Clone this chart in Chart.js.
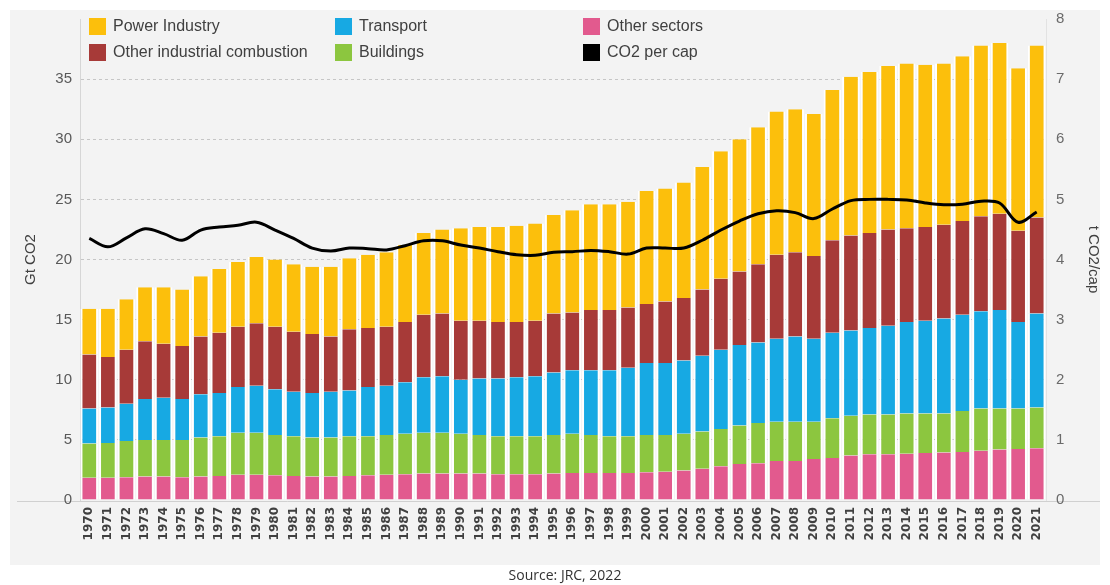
<!DOCTYPE html>
<html>
<head>
<meta charset="utf-8">
<script src="https://cdn.jsdelivr.net/npm/chart.js@4.4.1/dist/chart.umd.min.js"></script>
<style>
  body { margin: 0; background: #fff; font-family: "Liberation Sans", Arial, sans-serif; }
  #wrap { position: relative; width: 1110px; height: 585px; overflow: hidden; }
  #legend { position: absolute; left: 0; top: 0; }
  .item { position: absolute; display: flex; align-items: center; font-size: 16px; color: #404040; white-space: nowrap; }
  .item span.box { display: inline-block; width: 17px; height: 17px; margin-right: 7px; }
  #source { position: absolute; left: 10px; width: 1110px; top: 565px; text-align: center; font-family: "Open Sans", sans-serif; font-size: 14px; color: #333; }
</style>
</head>
<body>
<div id="wrap">
  <canvas id="chart" width="1110" height="585"></canvas>
  <div id="legend"></div>
  <div id="source">Source: JRC, 2022</div>
</div>
<script>
// Años
const years = [];
for (let y = 1970; y <= 2021; y++) years.push(String(y));

// Emisiones por sector (Gt CO2)
const otherSectors = [1.85,1.85,1.9,1.95,1.95,1.9,1.95,2.0,2.1,2.1,2.05,2.0,1.95,1.95,2.0,2.05,2.1,2.15,2.2,2.2,
  2.2,2.2,2.15,2.15,2.15,2.2,2.25,2.25,2.25,2.25,2.3,2.35,2.45,2.6,2.8,3.0,3.05,3.25,3.25,3.4,
  3.5,3.7,3.8,3.8,3.85,3.9,3.95,4.0,4.1,4.2,4.25,4.3];
const buildings = [2.85,2.9,3.0,3.05,3.05,3.1,3.25,3.3,3.5,3.5,3.35,3.3,3.25,3.25,3.3,3.25,3.3,3.35,3.4,3.4,
  3.3,3.2,3.15,3.15,3.15,3.2,3.25,3.15,3.05,3.05,3.1,3.05,3.05,3.1,3.1,3.2,3.35,3.25,3.25,3.1,
  3.3,3.3,3.3,3.3,3.35,3.3,3.25,3.4,3.5,3.4,3.35,3.4];
const transport = [2.9,2.95,3.1,3.4,3.5,3.4,3.6,3.6,3.8,3.9,3.8,3.7,3.7,3.8,3.8,4.1,4.1,4.3,4.6,4.7,
  4.5,4.7,4.8,4.9,5.0,5.2,5.3,5.4,5.5,5.7,6.0,6.0,6.1,6.3,6.6,6.7,6.7,6.9,7.1,6.9,
  7.1,7.1,7.2,7.4,7.6,7.7,7.9,8.0,8.1,8.2,7.2,7.8];
const otherIndustrial = [4.5,4.2,4.5,4.8,4.5,4.4,4.8,5.0,5.0,5.2,5.2,5.0,4.9,4.6,5.1,4.9,4.9,5.0,5.2,5.2,
  4.9,4.8,4.7,4.6,4.6,4.9,4.8,5.0,5.0,5.0,4.9,5.1,5.2,5.5,5.9,6.1,6.5,7.0,7.0,6.9,
  7.7,7.9,7.9,8.0,7.8,7.8,7.8,7.8,7.9,8.0,7.6,8.0];
const powerIndustry = [3.8,4.0,4.2,4.5,4.7,4.7,5.0,5.3,5.4,5.5,5.6,5.6,5.6,5.8,5.9,6.1,6.2,6.4,6.8,7.0,
  7.7,7.8,7.9,8.0,8.1,8.2,8.5,8.8,8.8,8.8,9.4,9.4,9.6,10.2,10.6,11.0,11.4,11.9,11.9,11.8,
  12.5,13.2,13.4,13.6,13.7,13.5,13.4,13.7,14.2,14.2,13.5,14.3];

// CO2 per cápita (t CO2/cap)
const co2PerCap = [4.35,4.21,4.36,4.51,4.43,4.32,4.49,4.54,4.57,4.62,4.49,4.35,4.19,4.14,4.19,4.18,4.16,4.23,4.31,4.31,
  4.24,4.19,4.13,4.08,4.07,4.12,4.13,4.15,4.13,4.09,4.19,4.19,4.19,4.32,4.49,4.64,4.76,4.81,4.78,4.68,
  4.84,4.98,5.0,5.0,4.99,4.94,4.91,4.92,4.97,4.94,4.62,4.79];

// Ejes
const leftTicks = [0, 5, 10, 15, 20, 25, 30, 35];
const rightTicks = [0, 1, 2, 3, 4, 5, 6, 7, 8];

const colors = {
  power: '#fcbf0c',
  industrial: '#a73a38',
  transport: '#17a9e3',
  buildings: '#8cc63f',
  other: '#e25a8e',
  line: '#000000'
};

function barSet(label, data, color) {
  return {
    type: 'bar',
    label: label,
    data: data,
    backgroundColor: color,
    borderColor: '#ffffff',
    borderWidth: { left: 2, right: 2, top: 0, bottom: 0 },
    borderSkipped: false,
    barPercentage: 1,
    categoryPercentage: 0.95,
    yAxisID: 'y',
    stack: 'co2'
  };
}

// Fondo gris del gráfico y línea base
const background = {
  id: 'background',
  beforeDraw(chart) {
    const c = chart.ctx;
    c.save();
    c.fillStyle = '#ffffff';
    c.fillRect(0, 0, chart.width, chart.height);
    c.fillStyle = '#f3f3f3';
    c.fillRect(10, 10, 1090, 555);
    c.strokeStyle = '#d0d0d0';
    c.lineWidth = 1;
    c.beginPath();
    c.moveTo(17, chart.chartArea.bottom + 1.5);
    c.lineTo(1100, chart.chartArea.bottom + 1.5);
    c.stroke();
    c.restore();
  }
};

const chart = new Chart(document.getElementById('chart'), {
  data: {
    labels: years,
    datasets: [
      {
        type: 'line',
        label: 'CO2 per cap',
        data: co2PerCap,
        borderColor: colors.line,
        backgroundColor: colors.line,
        borderWidth: 3,
        pointRadius: 0,
        tension: 0.35,
        yAxisID: 'y1',
        order: -1
      },
      barSet('Other sectors', otherSectors, colors.other),
      barSet('Buildings', buildings, colors.buildings),
      barSet('Transport', transport, colors.transport),
      barSet('Other industrial combustion', otherIndustrial, colors.industrial),
      barSet('Power Industry', powerIndustry, colors.power)
    ]
  },
  options: {
    responsive: false,
    animation: false,
    layout: { padding: { top: 10, bottom: 40, left: 0, right: 0 } },
    plugins: {
      legend: { display: false },
      tooltip: { enabled: false }
    },
    scales: {
      x: {
        stacked: true,
        grid: { display: false, drawTicks: false },
        border: { display: false },
        ticks: {
          autoSkip: false,
          maxRotation: 90,
          minRotation: 90,
          padding: 7,
          color: '#404040',
          font: { family: 'DejaVu Sans', size: 12, weight: 'bold' }
        },
        afterFit(s) { s.height = 45; }
      },
      y: {
        stacked: true,
        position: 'left',
        min: 0,
        max: 40,
        afterBuildTicks(s) { s.ticks = leftTicks.map(v => ({ value: v })); },
        ticks: {
          padding: 8,
          color: '#595959',
          font: { family: 'Liberation Sans', size: 15 }
        },
        grid: {
          drawTicks: false,
          color: ctx => (ctx.tick && ctx.tick.value > 0) ? '#c6c6c6' : 'rgba(0,0,0,0)'
        },
        border: { display: true, color: '#d6d6d6', dash: [3, 3] },
        title: {
          display: true,
          text: 'Gt CO2',
          color: '#404040',
          font: { family: 'Liberation Sans', size: 15 },
          padding: { top: 22, bottom: 0 }
        },
        afterFit(s) { s.width = 80; }
      },
      y1: {
        position: 'right',
        min: 0,
        max: 8,
        afterBuildTicks(s) { s.ticks = rightTicks.map(v => ({ value: v })); },
        ticks: {
          padding: 10,
          color: '#6a6a6a',
          font: { family: 'Liberation Sans', size: 15 }
        },
        grid: { display: false, drawTicks: false },
        border: { display: true, color: '#e2e2e2' },
        title: {
          display: true,
          text: 't CO2/cap',
          color: '#404040',
          font: { family: 'Liberation Sans', size: 15 },
          padding: { top: 8, bottom: 0 }
        },
        afterFit(s) { s.width = 64; }
      }
    }
  },
  plugins: [background]
});

// Leyenda en rejilla 3 x 2 (como el original)
const legendOrder = [
  ['Power Industry', 89, 17], ['Transport', 335, 17], ['Other sectors', 583, 17],
  ['Other industrial combustion', 89, 43], ['Buildings', 335, 43], ['CO2 per cap', 583, 43]
];
const legendDiv = document.getElementById('legend');
legendOrder.forEach(([name, left, top]) => {
  const ds = chart.data.datasets.find(d => d.label === name);
  const item = document.createElement('div');
  item.className = 'item';
  item.style.left = left + 'px';
  item.style.top = top + 'px';
  item.innerHTML = `<span class="box" style="background:${ds.type === 'line' ? ds.borderColor : ds.backgroundColor}"></span>${name}`;
  legendDiv.appendChild(item);
});
</script>
</body>
</html>
